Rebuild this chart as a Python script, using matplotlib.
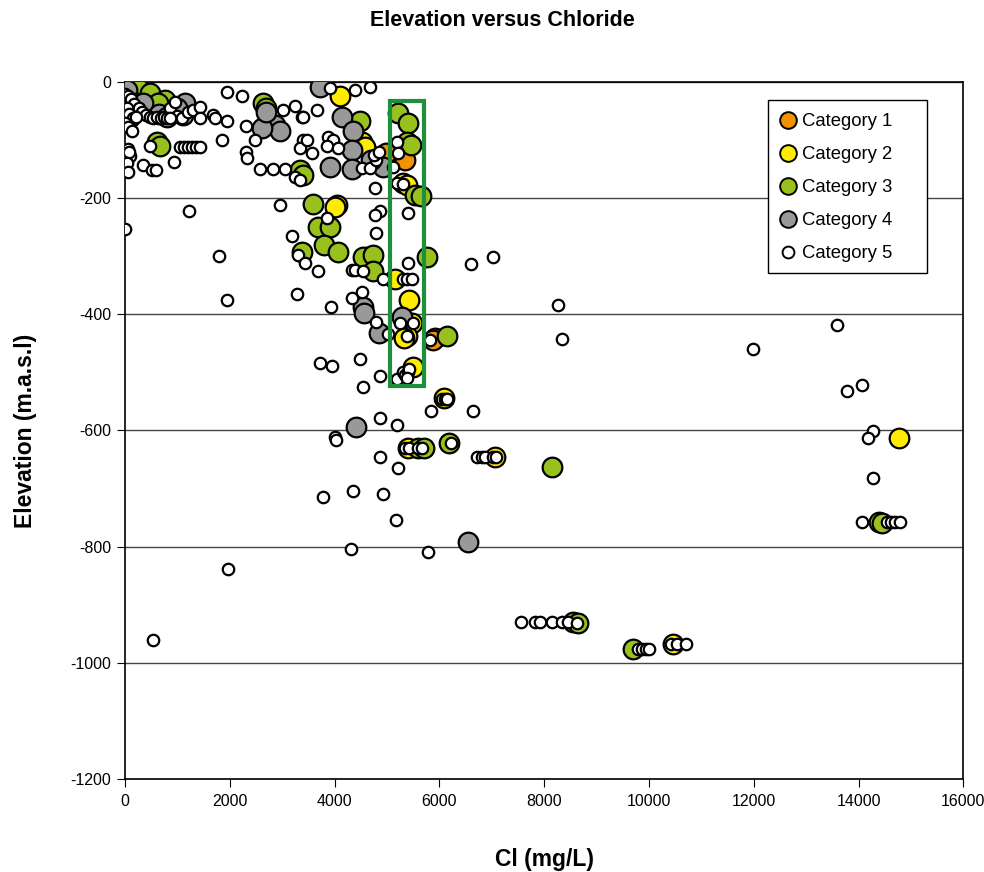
import numpy as np
import matplotlib
matplotlib.use('Agg')
from matplotlib import pyplot as plt
from matplotlib.patches import Rectangle

plt.rcParams['font.family'] = ['Liberation Sans', 'DejaVu Sans']
plt.rcParams['axes.unicode_minus'] = False

# Category 1 (orange)
cat1_x = [57, 5345, 4983, 5918, 5880]
cat1_y = [-57, -134, -123, -441, -445]

# Category 2 (yellow)
cat2_x = [4104, 5313, 5380, 4041, 4000, 4520, 4580, 5154, 5427, 5472, 5377, 5330,
          5504, 6090, 5408, 7063, 10467, 14770]
cat2_y = [-25, -174, -178, -212, -215, -103, -112, -340, -375, -415, -438, -440,
          -490, -544, -630, -645, -968, -613]

# Category 3 (green)
cat3_x = [254, 480, 764, 630, 605, 660, 2640, 2700, 3340, 3400, 4490, 5217, 5408,
          5377, 5450, 5540, 5650, 3580, 3690, 3910, 3790, 4070, 3370, 4614, 4550,
          4740, 4740, 5760, 6141, 5600, 5700, 6191, 8157, 8558, 8650, 9692, 14394,
          14450]
cat3_y = [-10, -19, -31, -36, -104, -110, -37, -45, -151, -160, -68, -54, -71,
          -103, -108, -194, -197, -210, -249, -249, -280, -292, -292, -301, -301,
          -298, -326, -301, -437, -630, -630, -622, -663, -930, -932, -977, -757,
          -760]

# Category 4 (grey)
cat4_x = [30, 220, 350, 1145, 1110, 100, 650, 800, 1000, 2860, 2960, 2610,
          2700, 3720, 4140, 4360, 4330, 3910, 4330, 4930, 4700, 4550, 4570, 4840,
          5280, 4410, 6550]
cat4_y = [-14, -37, -37, -37, -57, -60, -55, -60, -45, -74, -85, -80,
          -51, -8, -60, -85, -117, -146, -149, -146, -135, -387, -398, -432,
          -405, -594, -792]

# Category 5 (white)
cat5_x = [0, 60, 120, 180, 260, 330, 400, 470, 540, 610, 680, 750, 30, 80, 150,
          220, 0, 60, 130, 850, 950, 1000, 1080, 800, 1200, 1300, 1430, 1430, 1680,
          1720, 1940, 2310, 860, 1850, 2480, 2310, 2320, 1940, 2230,
          50, 100, 80, 30, 50, 340, 510, 600, 935, 1050, 1130, 1200, 1280, 1350,
          1430, 480,
          0, 540, 1960, 1950, 1800, 1230,
          2580, 2820, 3050, 3010, 3245, 3370, 3400, 3400, 3340, 3245, 3340,
          3910, 4390, 4680, 3660, 3470, 3560, 3875, 3970, 3850, 4065, 4520, 4680,
          4800, 4770, 4750, 4850, 5187, 5217, 5122, 5187, 5300,
          2960, 3850, 3180, 3300, 3440, 3690, 3280, 3930, 4330, 4520, 4800,
          4870, 4770, 4790, 5400, 5400, 4330, 4390, 4540, 4920, 5310, 5380, 5480,
          6600, 7025, 5015, 5820, 3720, 3960, 4490, 4860, 4540, 5190,
          5250, 5377, 5504, 5300, 5350, 5400, 5420, 5380,
          8340, 5840, 6640, 4870, 5190, 4870, 6710, 6810, 6870, 5210, 4930, 4350,
          3770, 5170, 5790, 4310, 4009, 4028,
          6050, 6100, 6150, 5350, 5420, 5600, 5660, 6230, 7020, 7080,
          7550, 7830, 7920, 8150, 8340, 8450, 8620,
          9800, 9870, 9940, 10010, 10430, 10530, 10710,
          11990, 8270, 13590, 14075, 13780, 14285, 14190, 14285, 14075, 14540,
          14620, 14700, 14800]
cat5_y = [-20, -25, -30, -38, -45, -52, -57, -60, -62, -60, -62, -60, -45, -55, -62,
          -60, -70, -78, -85, -45, -35, -58, -62, -62, -52, -48, -43, -62, -57,
          -62, -68, -76, -62, -100, -100, -120, -131, -17, -25,
          -115, -128, -120, -140, -155, -143, -151, -151, -138, -112, -112, -112,
          -112, -112, -112, -111,
          -253, -960, -838, -375, -300, -222,
          -150, -150, -150, -48, -41, -60, -60, -100, -114, -163, -169,
          -10, -14, -8, -48, -100, -122, -94, -100, -111, -114, -148, -148,
          -134, -183, -125, -120, -103, -123, -146, -174, -175,
          -212, -234, -265, -298, -311, -326, -365, -388, -372, -361, -414,
          -223, -229, -260, -226, -312, -324, -324, -326, -340, -340, -340, -340,
          -314, -302, -434, -444, -484, -489, -477, -507, -525, -512,
          -415, -438, -415, -500, -505, -500, -495, -510,
          -443, -567, -567, -579, -590, -645, -645, -645, -645, -665, -710, -705,
          -714, -754, -809, -804, -611, -616,
          -545, -545, -545, -630, -630, -630, -630, -622, -645, -645,
          -930, -930, -930, -930, -930, -930, -932,
          -977, -977, -977, -977, -968, -968, -968,
          -460, -384, -418, -521, -532, -601, -613, -682, -758, -758,
          -758, -758, -758]

categories = ['Category 1', 'Category 2', 'Category 3', 'Category 4', 'Category 5']
colors = ['#f39200', '#ffeb00', '#99c11e', '#999999', 'white']

fig = plt.figure(figsize=(9.84, 8.72), dpi=100)
ax = fig.add_axes([0.127, 0.1067, 0.852, 0.7993])

series = [(cat1_x, cat1_y), (cat2_x, cat2_y), (cat3_x, cat3_y), (cat4_x, cat4_y)]
for (sx, sy), c in zip(series, colors[:4]):
    ax.scatter(sx, sy, s=200, c=c, edgecolors='black', linewidths=1.6, zorder=3)
ax.scatter(cat5_x, cat5_y, s=68, c='white', edgecolors='black', linewidths=1.6, zorder=4)

# highlighted column
ax.add_patch(Rectangle((5060, -523), 650, 490, fill=False, edgecolor='#1e8f3a',
                       linewidth=3, zorder=5))

ax.set_xlim(0, 16000)
ax.set_ylim(-1200, 0)
ax.set_xticks(np.arange(0, 16001, 2000))
ax.set_yticks(np.arange(-1200, 1, 200))
ax.yaxis.grid(True, color='#444444', linewidth=1)
ax.set_axisbelow(True)
ax.tick_params(direction='out', length=6, labelsize=11.5)
ax.tick_params(axis='x', pad=5)
ax.tick_params(axis='y', pad=4)
for sp in ax.spines.values():
    sp.set_linewidth(1.2)

ax.set_xlabel('Cl (mg/L)', fontsize=16.5, fontweight='bold', labelpad=28)
ax.set_ylabel('Elevation (m.a.s.l)', fontsize=16.5, fontweight='bold', labelpad=24)
fig.text(0.511, 0.977, 'Elevation versus Chloride', fontsize=15.5,
         fontweight='bold', ha='center', va='center')

# legend box drawn by hand, Excel style
ax.add_patch(Rectangle((0.7673, 0.726), 0.1897, 0.2482, transform=ax.transAxes,
                       facecolor='white', edgecolor='black', linewidth=1.0,
                       zorder=10))
rows = [0.9430, 0.8956, 0.8483, 0.8009, 0.7536]
for i, (lab, c, ry) in enumerate(zip(categories, colors, rows)):
    ms = 12 if i < 4 else 8.5
    ax.plot([0.7912], [ry + 0.002], transform=ax.transAxes, linestyle='none',
            marker='o', markersize=ms, markerfacecolor=c, markeredgecolor='black',
            markeredgewidth=1.4, zorder=11, clip_on=False)
    ax.text(0.8079, ry, lab, transform=ax.transAxes, fontsize=13.3,
            va='center', ha='left', zorder=11)

fig.savefig('out.png', dpi=100)
